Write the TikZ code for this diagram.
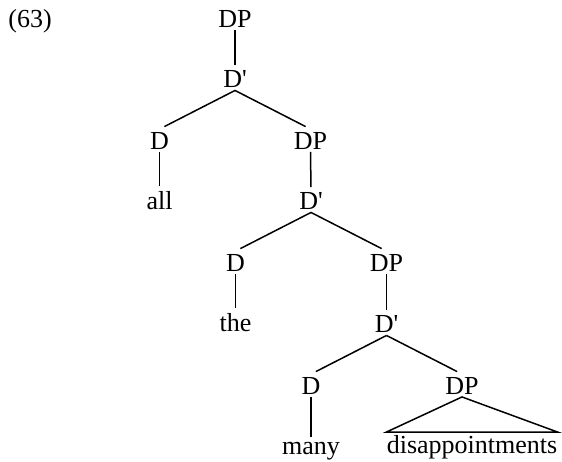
\documentclass[tikz,border=0pt]{standalone}
\usepackage{fontspec}
\setmainfont{Liberation Serif}
\usetikzlibrary{positioning}

\begin{document}
\begin{tikzpicture}[x=0.5pt, y=-0.5pt, font=\fontsize{13}{15.6}\selectfont,
    cat/.style={anchor=base, inner xsep=0pt, inner ysep=1.25pt},
    unary/.style={line width=0.75pt, shorten >=1.25pt},
    binary/.style={line width=0.75pt, shorten >=2.75pt}]
  \useasboundingbox (0,0) rectangle (562,461);
  \node[anchor=base west, inner sep=0pt] (ex) at (8,27) {(63)};
  \node[cat] (dp0) at (235,27) {DP};
  % each D' level: D' over D and DP, word under D
  \foreach \i/\x/\y/\w in {1/235/87.5/all, 2/311/209.5/the, 3/386.5/332.5/many}{
    \node[cat] (db\i) at (\x,\y) {D\textquotesingle};
    \node[cat] (d\i) at (\x-75.5,\y+61.5) {D};
    \node[cat] (dp\i) at (\x+75.5,\y+61.5) {DP};
    \node[cat] (w\i) at (\x-75.5,\y+122) {\w};
    \draw[binary] (db\i.south) -- (d\i.north);
    \draw[binary] (db\i.south) -- (dp\i.north);
    \draw[unary] (d\i.south) -- (w\i.north);
  }
  \foreach \a/\b in {0/1, 1/2, 2/3}
    \draw[unary] (dp\a.south) -- (db\b.north);
  % last DP as a triangle
  \node[cat] (dis) at (472,453) {disappointments};
  \draw[line width=0.75pt] (dp3.south) -- (dis.north east) -- (dis.north west) -- cycle;
\end{tikzpicture}
\end{document}
